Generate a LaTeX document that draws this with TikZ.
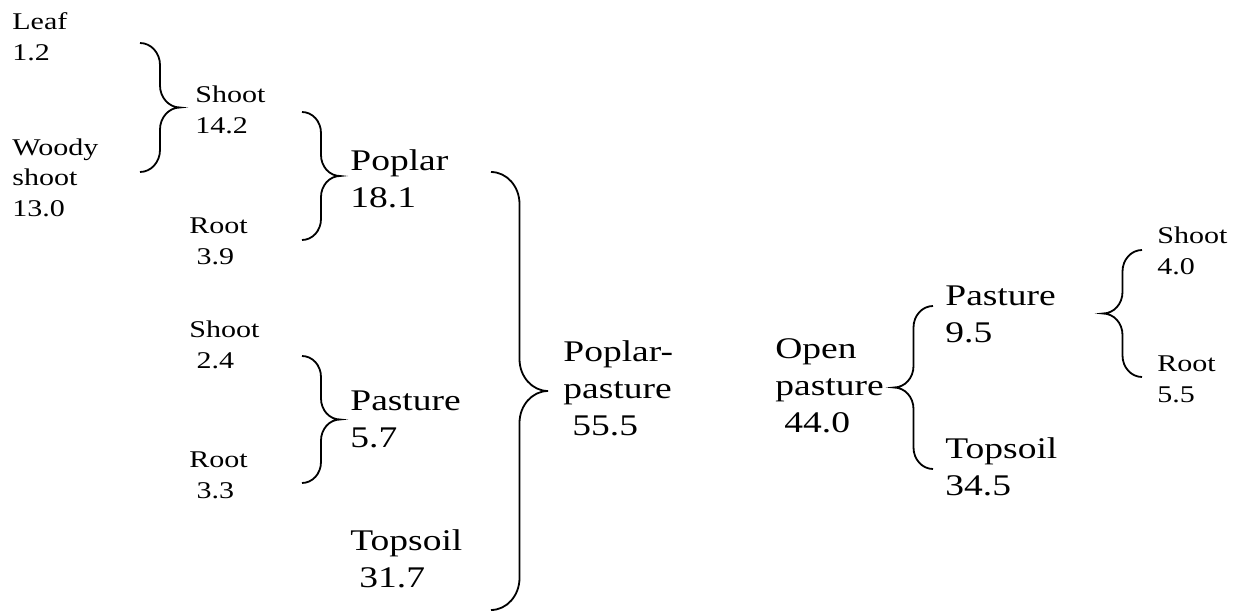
\documentclass[tikz,border=0pt]{standalone}
\usepackage{fontspec}
\setmainfont{Liberation Serif}[FakeStretch=1.25]
\usetikzlibrary{calc}
\newcommand{\indt}{\hspace*{0.3em}}

\begin{document}
\begin{tikzpicture}[
      x=0.5pt, y=0.5pt,
      sm/.style={anchor=base west, inner sep=0pt, align=left, font=\fontsize{12}{15.25}\selectfont},
      lg/.style={anchor=base west, inner sep=0pt, align=left, font=\fontsize{15}{18.5}\selectfont},
      curl/.style={line width=0.9pt},
      rbrace/.style 2 args={to path={let \p1=(\tikztostart), \p2=(\tikztotarget),
          \p3=($(\tikztostart)!0.5!(\tikztotarget)$) in
          arc[start angle=90, end angle=0, x radius=#1, y radius=#2]
          -- (\x1+#1, \y3+#2)
          arc[start angle=180, end angle=270, x radius=#1, y radius=#2]
          arc[start angle=90, end angle=180, x radius=#1, y radius=#2]
          -- (\x1+#1, \y2+#2)
          arc[start angle=0, end angle=-90, x radius=#1, y radius=#2]}},
      lbrace/.style 2 args={to path={let \p1=(\tikztostart), \p2=(\tikztotarget),
          \p3=($(\tikztostart)!0.5!(\tikztotarget)$) in
          arc[start angle=90, end angle=180, x radius=#1, y radius=#2]
          -- (\x1-#1, \y3+#2)
          arc[start angle=0, end angle=-90, x radius=#1, y radius=#2]
          arc[start angle=90, end angle=0, x radius=#1, y radius=#2]
          -- (\x1-#1, \y2+#2)
          arc[start angle=180, end angle=270, x radius=#1, y radius=#2]}}
    ]
      \useasboundingbox (0,0) rectangle (1242,612);

      % poplar side (base = last line)
      \node[sm] (leaf) at (12,552) {Leaf\\1.2};
      \node[sm] (woody) at (12,396) {Woody\\shoot\\13.0};
      \node[sm] (shootA) at (195,479) {Shoot\\14.2};
      \node[sm] (rootA) at (189,348) {Root\\\indt3.9};
      \node[lg] (poplar) at (350,405) {Poplar\\18.1};
      \node[sm] (shootB) at (189,244) {Shoot\\\indt2.4};
      \node[sm] (rootB) at (189,114) {Root\\\indt3.3};
      \node[lg] (pastA) at (350,165) {Pasture\\5.7};
      \node[lg] (soilA) at (350,25) {Topsoil\\\indt31.7};
      \node[lg] (poppas) at (563,177) {Poplar-\\pasture\\\indt55.5};

      % open pasture side
      \node[lg] (open) at (775,180) {Open\\pasture\\\indt44.0};
      \node[lg] (pastB) at (945,270) {Pasture\\9.5};
      \node[lg] (soilB) at (945,117) {Topsoil\\34.5};
      \node[sm] (shootC) at (1157,338) {Shoot\\4.0};
      \node[sm] (rootC) at (1157,210) {Root\\5.5};

      % brace ends
      \coordinate (b1t) at (140,569);  \coordinate (b1b) at (140,440);
      \coordinate (b2t) at (302,500);  \coordinate (b2b) at (302,372);
      \coordinate (b3t) at (491,440);  \coordinate (b3b) at (491,2);
      \coordinate (b4t) at (302,256);  \coordinate (b4b) at (302,129);
      \coordinate (b5t) at (933,306);  \coordinate (b5b) at (933,143);
      \coordinate (b6t) at (1142,362); \coordinate (b6b) at (1142,235);

      \draw[curl] (b1t) to[rbrace={10pt}{11pt}] (b1b);
      \draw[curl] (b2t) to[rbrace={9.5pt}{10.5pt}] (b2b);
      \draw[curl] (b3t) to[rbrace={14.25pt}{16pt}] (b3b);
      \draw[curl] (b4t) to[rbrace={9.5pt}{10.5pt}] (b4b);
      \draw[curl] (b5t) to[lbrace={9.75pt}{10.75pt}] (b5b);
      \draw[curl] (b6t) to[lbrace={9.75pt}{10.75pt}] (b6b);
    \end{tikzpicture}
\end{document}
